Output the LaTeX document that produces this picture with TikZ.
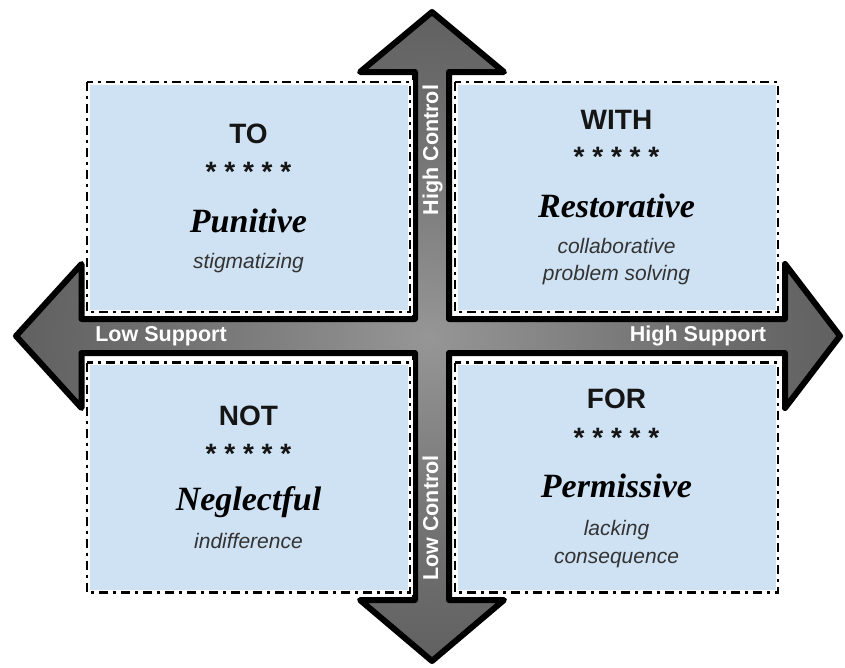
\documentclass[tikz,border=0pt]{standalone}
\usepackage{fontspec}
\setmainfont{Liberation Sans}
\newfontfamily\scriptface{Liberation Serif}
\definecolor{boxblue}{HTML}{CFE2F3}
\definecolor{shadeIn}{RGB}{150,150,150}
\definecolor{shadeMid}{RGB}{112,112,112}
\definecolor{shadeOut}{RGB}{88,88,88}
\definecolor{subgray}{HTML}{333333}
\definecolor{titleblack}{HTML}{151515}
\pgfdeclareradialshading{crossshade}{\pgfpoint{0bp}{0bp}}{color(0bp)=(shadeIn); color(16bp)=(shadeMid); color(30bp)=(shadeOut); color(50bp)=(shadeOut)}
\tikzset{
  quadbox/.style={fill=boxblue, draw=white, line width=5pt, minimum width=323pt, minimum height=230pt, inner sep=0pt, outer sep=0pt},
  dashborder/.style={draw=black, line width=2.5pt, dash pattern=on 9pt off 5pt on 3pt off 5pt},
  axislabel/.style={text=white, font=\bfseries\fontsize{21.5}{24}\selectfont, inner sep=0pt, anchor=base},
  title/.style={text=titleblack, font=\bfseries\fontsize{28}{32}\selectfont, inner sep=0pt, anchor=base},
  stars/.style={text=titleblack, font=\bfseries\fontsize{28}{32}\selectfont, inner sep=0pt, anchor=base},
  scriptword/.style={text=black, font=\scriptface\bfseries\itshape\fontsize{34}{38}\selectfont, inner sep=0pt, anchor=base},
  subtitle/.style={text=subgray, font=\itshape\fontsize{21}{24}\selectfont, inner sep=0pt, anchor=base}
}
\begin{document}
\begin{tikzpicture}[x=1pt,y=-1pt]
\useasboundingbox (0,0) rectangle (845,667);
% cross of four arrows
\shadedraw[shading=crossshade, draw=black, line width=6pt, line join=round]
  (16,336) -- (81.5,264) -- (81.5,319) -- (415,319) -- (415,72) -- (360,72) -- (432,12)
  -- (504,72) -- (449,72) -- (449,319) -- (785,319) -- (785,264) -- (840,336)
  -- (785,408) -- (785,353) -- (449,353) -- (449,600) -- (504,600) -- (432,661)
  -- (360,600) -- (415,600) -- (415,353) -- (81.5,353) -- (81.5,408) -- cycle;
% axis labels
\node[axislabel] (lowsup) at (161,341.5) {Low Support};
\node[axislabel] (highsup) at (698,341.5) {High Support};
\node[axislabel, rotate=90] (highctl) at (438,150) {High Control};
\node[axislabel, rotate=90] (lowctl) at (438,518) {Low Control};
% quadrant boxes
\node[quadbox] (to) at (248.5,197) {};
\node[quadbox] (with) at (616.5,197) {};
\node[quadbox] (not) at (248.5,477.5) {};
\node[quadbox] (for) at (616.5,477.5) {};
\foreach \b in {to,with,not,for}
  \draw[dashborder] (\b.north west) rectangle (\b.south east);
% TO
\node[title] (toT) at (248.5,143) {TO};
\node[stars] (toS) at (248.5,181) {* * * * *};
\node[scriptword] (toW) at (248.5,232) {Punitive};
\node[subtitle] (toD) at (248.5,268) {stigmatizing};
% WITH
\node[title] (withT) at (616.5,129) {WITH};
\node[stars] (withS) at (616.5,166) {* * * * *};
\node[scriptword] (withW) at (616.5,217) {Restorative};
\node[subtitle] (withD1) at (616.5,253) {collaborative};
\node[subtitle] (withD2) at (616.5,280) {problem solving};
% NOT
\node[title] (notT) at (248.5,425) {NOT};
\node[stars] (notS) at (248.5,463) {* * * * *};
\node[scriptword] (notW) at (248.5,510) {Neglectful};
\node[subtitle] (notD) at (248.5,548) {indifference};
% FOR
\node[title] (forT) at (616.5,408) {FOR};
\node[stars] (forS) at (616.5,447) {* * * * *};
\node[scriptword] (forW) at (616.5,497) {Permissive};
\node[subtitle] (forD1) at (616.5,535) {lacking};
\node[subtitle] (forD2) at (616.5,563) {consequence};
\end{tikzpicture}
\end{document}
